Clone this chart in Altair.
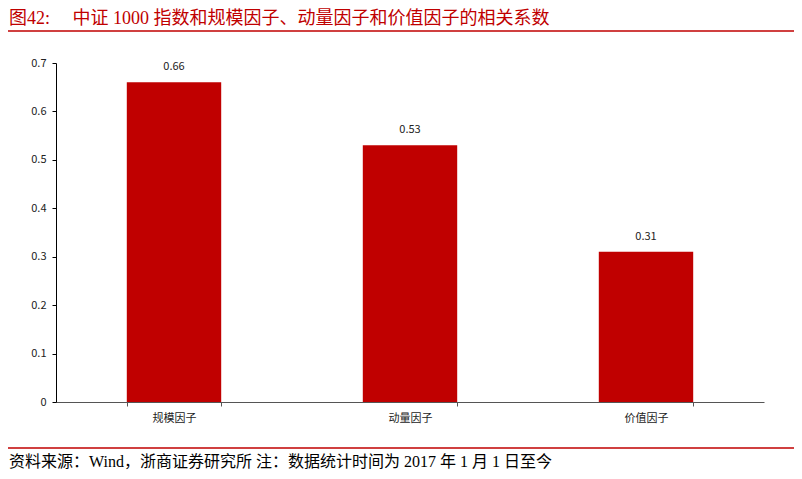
import altair as alt
import pandas as pd

categories = ["规模因子", "动量因子", "价值因子"]
values = [0.66, 0.53, 0.31]
labels = ["0.66", "0.53", "0.31"]

title_text = "图42:\u3000\u00a0中证 1000 指数和规模因子、动量因子和价值因子的相关系数"
footer_text = "资料来源：Wind，浙商证券研究所 注：数据统计时间为 2017 年 1 月 1 日至今"

RED = "#C00000"
SERIF = "Liberation Serif, Noto Sans CJK SC"
SANS = "Noto Sans CJK SC"

df = pd.DataFrame({"cat": categories, "val": values, "lab": labels})

x_enc = alt.X("cat:N", sort=categories,
              scale=alt.Scale(paddingInner=0.6, paddingOuter=0.3),
              axis=alt.Axis(title=None, labelAngle=0, tickBand="extent",
                            tickSize=4, labelFontSize=11, labelFont=SANS,
                            labelColor="#222222", domainColor="#555555",
                            tickColor="#555555", labelPadding=6))
y_enc = alt.Y("val:Q",
              scale=alt.Scale(domain=[0, 0.7], nice=False),
              axis=alt.Axis(title=None, values=[0, 0.1, 0.2, 0.3, 0.4, 0.5, 0.6, 0.7],
                            labelExpr="datum.value == 0 ? '0' : format(datum.value, '.1f')",
                            grid=False, tickSize=4, labelFontSize=11, labelFont=SANS,
                            labelColor="#222222", domainColor="#000000",
                            tickColor="#000000", labelPadding=6))

bars = alt.Chart(df).mark_bar(color=RED).encode(x=x_enc, y=y_enc)

bar_text = alt.Chart(df).mark_text(baseline="bottom", dy=-10, fontSize=11,
                                   font=SANS, color="#222222").encode(
    x=alt.X("cat:N", sort=categories), y="val:Q", text="lab:N")

title_mark = alt.Chart(pd.DataFrame({"t": [title_text]})).mark_text(
    align="left", baseline="middle", fontSize=18, font=SERIF, color=RED
).encode(x=alt.value(-47), y=alt.value(-44), text="t:N")

footer_mark = alt.Chart(pd.DataFrame({"t": [footer_text]})).mark_text(
    align="left", baseline="middle", fontSize=16, font=SERIF, color="#000000"
).encode(x=alt.value(-47), y=alt.value(399), text="t:N")

top_line = alt.Chart(pd.DataFrame({"a": [0]})).mark_rule(color=RED, strokeWidth=1.5).encode(
    x=alt.value(-48), x2=alt.value(741), y=alt.value(-32))
bottom_line = alt.Chart(pd.DataFrame({"a": [0]})).mark_rule(color=RED, strokeWidth=1.5).encode(
    x=alt.value(-48), x2=alt.value(741), y=alt.value(385))

chart = alt.layer(bars, bar_text, title_mark, footer_mark, top_line, bottom_line).properties(
    width=708, height=339,
    autosize=alt.AutoSizeParams(type="none"),
    padding={"left": 48, "top": 55, "right": 30, "bottom": 69},
    background="white",
).configure_view(stroke=None)

chart.save("out.html", embed_options={"renderer": "svg", "actions": False})
